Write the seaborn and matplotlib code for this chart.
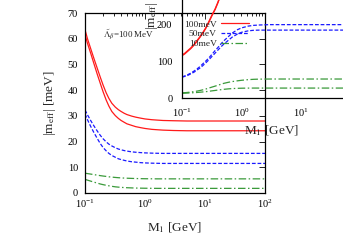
import numpy as np
import pandas as pd
import matplotlib as mpl
import matplotlib.pyplot as plt
import seaborn as sns

sns.set_style("white")
mpl.rcParams['font.family'] = ['Liberation Serif', 'DejaVu Serif']
mpl.rcParams['mathtext.fontset'] = 'stix'
mpl.rcParams['axes.unicode_minus'] = False

# M_1 [GeV] grid
M1 = [0.1, 0.11, 0.125, 0.14, 0.16, 0.18, 0.2, 0.225, 0.25, 0.28, 0.32, 0.36, 0.4,
      0.45, 0.5, 0.6, 0.7, 0.85, 1, 1.3, 1.6, 2, 3, 5, 10, 30, 100]

# main panel: |m_eff| [meV]
red_hi = [63.5, 60.0, 56.0, 52.5, 48.5, 45.0, 42.0, 39.0, 36.8, 34.9, 33.4, 32.4, 31.7,
          31.0, 30.5, 29.9, 29.5, 29.1, 28.8, 28.5, 28.35, 28.2, 28.1, 28.0, 28.0, 28.0, 28.0]
red_lo = [61.5, 58.2, 54.2, 50.5, 46.2, 42.6, 39.4, 36.2, 33.8, 31.7, 30.1, 29.0, 28.2,
          27.5, 26.9, 26.3, 25.8, 25.4, 25.1, 24.75, 24.6, 24.45, 24.3, 24.2, 24.2, 24.2, 24.2]
blue_hi = [32.3, 30.4, 28.1, 26.2, 24.1, 22.4, 21.1, 19.9, 19.0, 18.3, 17.6, 17.1, 16.8,
           16.5, 16.3, 16.0, 15.85, 15.7, 15.6, 15.5, 15.45, 15.4, 15.4, 15.4, 15.4, 15.4, 15.4]
blue_lo = [30.7, 28.5, 25.8, 23.6, 21.2, 19.2, 17.7, 16.4, 15.4, 14.6, 13.9, 13.3, 13.0,
           12.7, 12.45, 12.15, 12.0, 11.8, 11.7, 11.6, 11.55, 11.5, 11.5, 11.5, 11.5, 11.5, 11.5]
green_hi = [7.7, 7.55, 7.35, 7.15, 6.95, 6.75, 6.6, 6.45, 6.3, 6.18, 6.05, 5.95, 5.88,
            5.8, 5.75, 5.68, 5.63, 5.58, 5.55, 5.52, 5.5, 5.5, 5.5, 5.5, 5.5, 5.5, 5.5]
green_lo = [5.3, 5.0, 4.6, 4.25, 3.85, 3.5, 3.25, 3.0, 2.8, 2.6, 2.4, 2.28, 2.2,
            2.1, 2.05, 1.98, 1.92, 1.88, 1.85, 1.82, 1.8, 1.8, 1.8, 1.8, 1.8, 1.8, 1.8]

# inset panel
in_red_hi = [118, 122, 130, 137, 147, 158, 168, 180, 192, 208, 228, 244, 262,
             285, 305, 342, 372, 405, 428, 453, 466, 474, 479, 480, 480, 480, 480]
in_red_lo = [116, 120, 128, 135, 145, 156, 166, 178, 190, 206, 226, 242, 260,
             283, 303, 340, 370, 403, 426, 451, 464, 472, 477, 478, 478, 478, 478]
in_blue_hi = [58, 60, 64, 68, 74, 80, 86, 94, 101, 109, 120, 130, 138,
              148, 156, 168, 178, 187, 192, 197, 199, 200, 201, 201, 201, 201, 201]
in_blue_lo = [57, 59, 62, 66, 71, 77, 82, 89, 96, 104, 114, 123, 131,
              140, 147, 158, 167, 175, 180, 184, 185.5, 186, 186, 186, 186, 186, 186]
in_green_hi = [14, 14.5, 15.3, 16.2, 17.5, 19, 20.5, 22.5, 24.5, 27, 30, 32.5, 35,
               37.5, 40, 43, 45, 47, 48.5, 50.3, 51.2, 51.7, 52, 52, 52, 52, 52]
in_green_lo = [13, 13.2, 13.6, 14, 14.6, 15.2, 15.8, 16.6, 17.4, 18.3, 19.6, 20.7, 21.7,
               22.8, 23.7, 25, 25.8, 26.5, 26.8, 27.1, 27.2, 27.2, 27.2, 27.2, 27.2, 27.2, 27.2]

legend_labels = ["100meV", "50meV", "10meV"]

RED = "#ff1a1a"
BLUE = "#1a1aff"
GREEN = "#3a9a3a"
DASH = (0, (3, 1.5))
DASHDOT = (0, (6, 2, 1.2, 2))

fig = plt.figure(figsize=(3.43, 2.40), dpi=100)
ax = fig.add_axes([85 / 343, 1 - 193 / 240, 180 / 343, 180 / 240])
ins = fig.add_axes([182 / 343, 1 - 98 / 240, 178.5 / 343, 182.5 / 240])
ins.set_facecolor('none')

# main curves
for y, c, ls in [(red_hi, RED, '-'), (red_lo, RED, '-'),
                 (blue_hi, BLUE, DASH), (blue_lo, BLUE, DASH),
                 (green_hi, GREEN, DASHDOT), (green_lo, GREEN, DASHDOT)]:
    sns.lineplot(x=M1, y=y, ax=ax, color=c, linestyle=ls, linewidth=0.9)

# inset curves
series = [(in_red_hi, RED, '-', legend_labels[0]), (in_red_lo, RED, '-', None),
          (in_blue_hi, BLUE, DASH, legend_labels[1]), (in_blue_lo, BLUE, DASH, None),
          (in_green_hi, GREEN, DASHDOT, legend_labels[2]), (in_green_lo, GREEN, DASHDOT, None)]
for y, c, ls, lab in series:
    sns.lineplot(x=M1, y=y, ax=ins, color=c, linestyle=ls, linewidth=0.9, label=lab)

for a in (ax, ins):
    a.set_xscale('log')
    a.set_xlim(0.1, 100)
    for s in a.spines.values():
        s.set_color('black')
        s.set_linewidth(0.9)
    a.tick_params(which='both', direction='in', top=True, right=True,
                  colors='black', labelsize=7.5)
    a.tick_params(which='major', length=4.5, width=0.6)
    a.tick_params(which='minor', length=2.5, width=0.6)

ax.set_ylim(0, 70)
ax.set_yticks(np.arange(0, 71, 10))
ax.tick_params(axis='y', pad=5)
ax.tick_params(axis='x', pad=3)
ax.set_xlabel("M$_1$ [GeV]", fontsize=9.5)
ax.set_ylabel(r"|m$_{\rm eff}$| [meV]", fontsize=9.5)
ax.xaxis.set_label_coords(0.5, -0.15)
ax.yaxis.set_label_coords(-0.15, 0.5)
ax.text(0.1, 0.883, r"$\tilde{\Lambda}_\beta$=100 MeV", transform=ax.transAxes,
        fontsize=6.5, ha='left', va='center')

ins.set_ylim(0, 500)
ins.set_yticks(np.arange(0, 501, 100))
ins.tick_params(axis='y', pad=7)
ins.tick_params(axis='x', pad=6)
ins.set_xlabel("M$_1$ [GeV]", fontsize=9.5)
ins.set_ylabel(r"|m$_{\rm eff}$| [meV]", fontsize=9.5)
ins.xaxis.set_label_coords(0.5, -0.137)
ins.yaxis.set_label_coords(-0.123, 0.55)

ins.legend(loc='upper left', bbox_to_anchor=(184 / 343, 1 - 20 / 240),
           bbox_transform=fig.transFigure, frameon=False, markerfirst=False,
           fontsize=6.8, handlelength=3.0, handletextpad=0.4, labelspacing=0.12,
           borderpad=0, borderaxespad=0)

fig.savefig("out.png", dpi=100)
